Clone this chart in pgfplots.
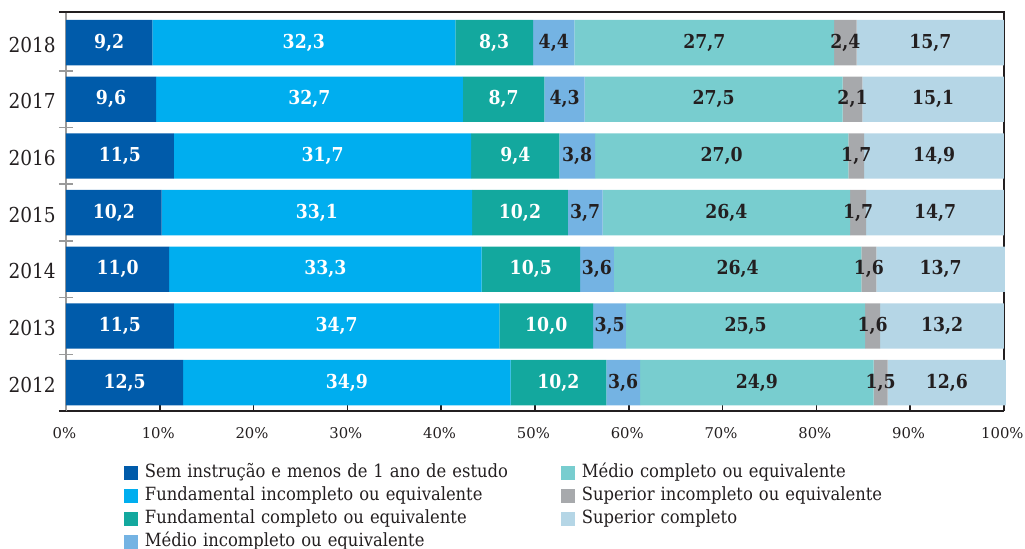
\documentclass[border=0pt]{standalone}
\usepackage{pgfplots}
\pgfplotsset{compat=1.18}
\usepackage{pgfplotstable}
\usepackage{fontspec}
\setmainfont{DejaVu Serif Condensed}
\newfontfamily\tickfont{DejaVu Serif}

\definecolor{cSem}{HTML}{005BAA}
\definecolor{cFundInc}{HTML}{00AEEF}
\definecolor{cFundCom}{HTML}{13A89E}
\definecolor{cMedInc}{HTML}{74B3E3}
\definecolor{cMedCom}{HTML}{78CDCF}
\definecolor{cSupInc}{HTML}{A7A9AC}
\definecolor{cSupCom}{HTML}{B5D6E6}
\definecolor{ink}{HTML}{231F20}
\definecolor{eixo}{HTML}{9A9A9A}

\newcommand{\rotulo}{\fontsize{9.6}{11}\selectfont\bfseries}
\newcommand{\legfont}{\fontsize{9.1}{11.5}\selectfont}

% Distribuicao percentual por nivel de instrucao (%)
\pgfplotstableread{
i year sem fundinc fundcom medinc medcom supinc supcom
0 2012 12.5 34.9 10.2 3.6 24.9 1.5 12.6
1 2013 11.5 34.7 10.0 3.5 25.5 1.6 13.2
2 2014 11.0 33.3 10.5 3.6 26.4 1.6 13.7
3 2015 10.2 33.1 10.2 3.7 26.4 1.7 14.7
4 2016 11.5 31.7 9.4 3.8 27.0 1.7 14.9
5 2017 9.6 32.7 8.7 4.3 27.5 2.1 15.1
6 2018 9.2 32.3 8.3 4.4 27.7 2.4 15.7
}\dados

\pgfplotsset{
  % geometria comum as duas camadas
  base/.style={
    scale only axis,
    width=469pt, height=199.5pt,
    xbar stacked, bar width=0.8,
    xmin=0, xmax=100, ymin=-0.5, ymax=6.54,
    clip=false,
    /pgf/number format/assume math mode=true,
  },
  % segmento colorido
  segmento/.style={fill=#1, draw=none},
  % segmento invisivel que so escreve o valor no centro
  rotulo/.style 2 args={
    fill=none, draw=none,
    point meta={\thisrow{#1}},
    nodes near coords={\pgfmathprintnumber[fixed,fixed zerofill,precision=1,use comma,assume math mode=true]{\pgfplotspointmeta}},
    every node near coord/.append style={text=#2, font=\rotulo, anchor=center, inner sep=0pt},
  },
}

\begin{document}
\begin{tikzpicture}
\path[use as bounding box] (-33pt,-68.5pt) rectangle (479.5pt,205.5pt);
% barras, eixos e legenda
\begin{axis}[
  base,
  axis x line*=bottom, axis y line*=left,
  x axis line style={ink, line width=1pt, -},
  y axis line style={eixo, line width=0.8pt, -},
  xtick={0,10,...,100},
  xticklabel={\pgfmathprintnumber{\tick}\%},
  xticklabel style={font=\tickfont\fontsize{7.4}{9}\selectfont, text=ink, yshift=-4.5pt, xshift=-0.8pt},
  ytick={0,...,6},
  yticklabels={2012,2013,2014,2015,2016,2017,2018},
  yticklabel style={font=\fontsize{10.3}{12}\selectfont, text=ink, xshift=-1.6pt, yshift=-1pt},
  minor ytick={0.5,1.5,...,5.5},
  tick align=inside,
  major tick length=3pt,
  minor tick length=7pt,
  major x tick style={ink, line width=0.8pt},
  major y tick style={draw=none},
  minor y tick style={eixo, line width=0.8pt, xshift=-3.5pt},
  legend image code/.code={\fill[#1] (0pt,-3.5pt) rectangle (7pt,3.5pt);},
  legend cell align=left,
  transpose legend, legend columns=4,
  legend style={at={(axis description cs:0.0618,-0.1253)}, anchor=north west,
    draw=none, fill=none, inner sep=0pt, outer sep=0pt, row sep=0pt, column sep=0pt,
    nodes={inner sep=0pt, outer sep=0pt, text=ink, font=\legfont, text height=8pt, text depth=3.5pt},
    /tikz/every odd column/.append style={column sep=3.5pt},
    /tikz/every even column/.append style={nodes={text width=208pt}},
  },
]
\addplot[segmento=cSem] table[x=sem, y=i] {\dados};
\addlegendentry{Sem instrução e menos de 1 ano de estudo}
\addplot[segmento=cFundInc] table[x=fundinc, y=i] {\dados};
\addlegendentry{Fundamental incompleto ou equivalente}
\addplot[segmento=cFundCom] table[x=fundcom, y=i] {\dados};
\addlegendentry{Fundamental completo ou equivalente}
\addplot[segmento=cMedInc] table[x=medinc, y=i] {\dados};
\addlegendentry{Médio incompleto ou equivalente}
\addplot[segmento=cMedCom] table[x=medcom, y=i] {\dados};
\addlegendentry{Médio completo ou equivalente}
\addplot[segmento=cSupInc] table[x=supinc, y=i] {\dados};
\addlegendentry{Superior incompleto ou equivalente}
\addplot[segmento=cSupCom] table[x=supcom, y=i] {\dados};
\addlegendentry{Superior completo}
% moldura: topo, lado direito e prolongamentos a esquerda
\draw[ink, line width=1pt] (axis description cs:-0.0075,1) -- (axis description cs:1,1) -- (axis description cs:1,0);
\draw[ink, line width=1pt] (axis description cs:-0.0075,0) -- (axis description cs:0,0);
\end{axis}
% valores por cima de todas as barras
\begin{axis}[base, hide axis]
\addplot[rotulo={sem}{white}] table[x=sem, y=i] {\dados};
\addplot[rotulo={fundinc}{white}] table[x=fundinc, y=i] {\dados};
\addplot[rotulo={fundcom}{white}] table[x=fundcom, y=i] {\dados};
\addplot[rotulo={medinc}{ink}] table[x=medinc, y=i] {\dados};
\addplot[rotulo={medcom}{ink}] table[x=medcom, y=i] {\dados};
\addplot[rotulo={supinc}{ink}] table[x=supinc, y=i] {\dados};
\addplot[rotulo={supcom}{ink}] table[x=supcom, y=i] {\dados};
\end{axis}
\end{tikzpicture}
\end{document}
